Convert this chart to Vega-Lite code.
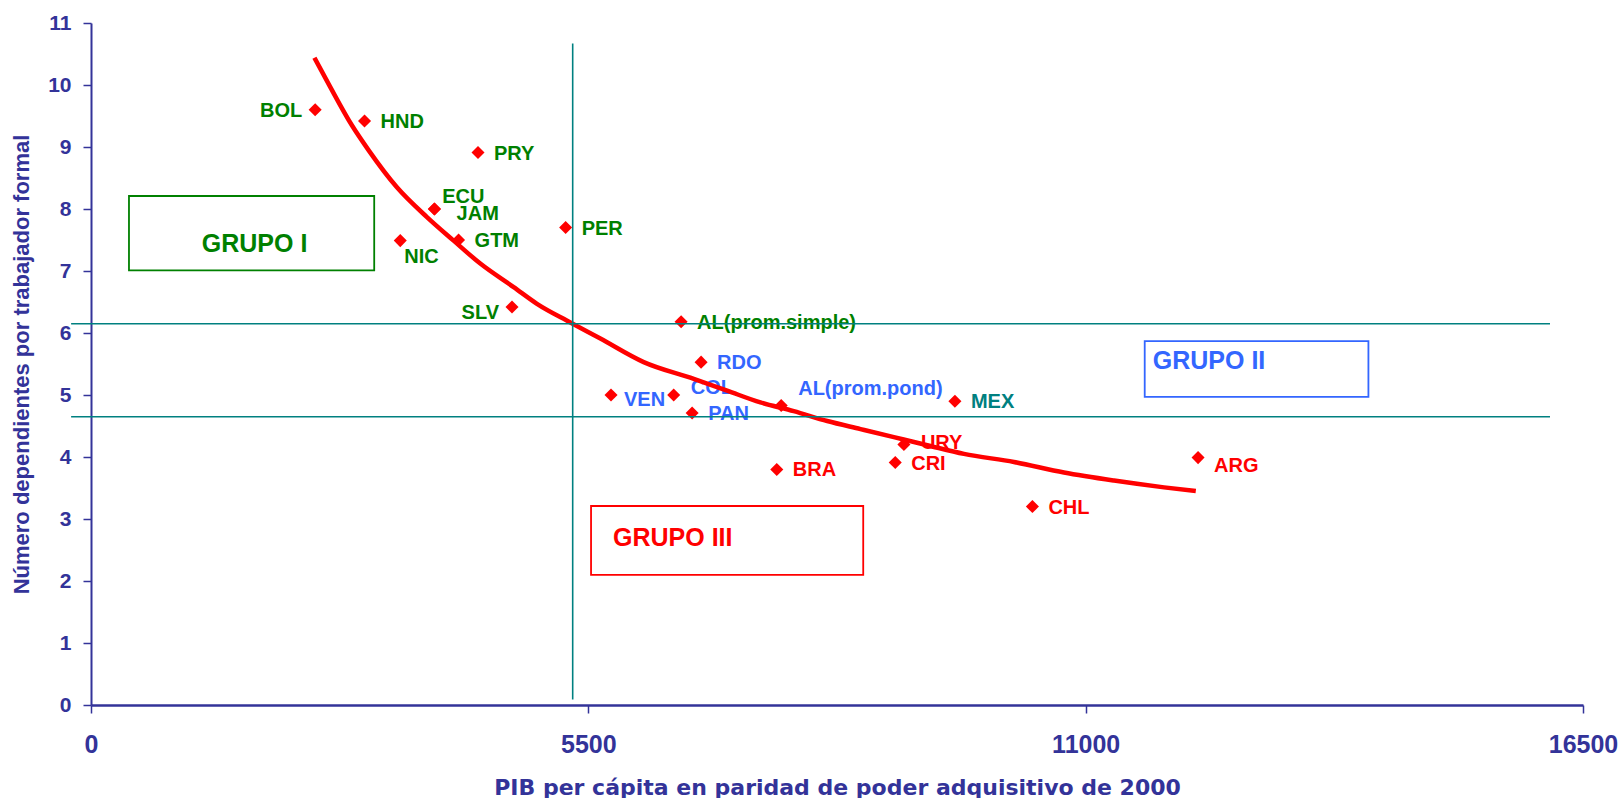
{
  "$schema": "https://vega.github.io/schema/vega-lite/v6.json",
  "width": 1492,
  "height": 682,
  "autosize": "none",
  "padding": {"left": 91, "top": 23, "right": 39, "bottom": 93},
  "background": "white",
  "config": {
    "view": {"stroke": null},
    "axis": {"grid": false},
    "text": {"font": "Liberation Sans", "fontWeight": "bold"}
  },
  "datasets": {
    "paises": [
      {"pais": "BOL", "pib": 2479, "dep": 9.60, "grupo": "I"},
      {"pais": "HND", "pib": 3025, "dep": 9.42, "grupo": "I"},
      {"pais": "PRY", "pib": 4280, "dep": 8.91, "grupo": "I"},
      {"pais": "ECU", "pib": 3796, "dep": 8.00, "grupo": "I"},
      {"pais": "JAM", "pib": 3800, "dep": 8.00, "grupo": "I"},
      {"pais": "NIC", "pib": 3420, "dep": 7.49, "grupo": "I"},
      {"pais": "GTM", "pib": 4065, "dep": 7.50, "grupo": "I"},
      {"pais": "PER", "pib": 5249, "dep": 7.70, "grupo": "I"},
      {"pais": "SLV", "pib": 4656, "dep": 6.42, "grupo": "I"},
      {"pais": "AL(prom.simple)", "pib": 6526, "dep": 6.18, "grupo": "I"},
      {"pais": "RDO", "pib": 6747, "dep": 5.53, "grupo": "II"},
      {"pais": "VEN", "pib": 5751, "dep": 5.00, "grupo": "II"},
      {"pais": "COL", "pib": 6444, "dep": 5.00, "grupo": "II"},
      {"pais": "PAN", "pib": 6648, "dep": 4.71, "grupo": "II"},
      {"pais": "AL(prom.pond)", "pib": 7633, "dep": 4.83, "grupo": "II"},
      {"pais": "MEX", "pib": 9554, "dep": 4.90, "grupo": "II"},
      {"pais": "URY", "pib": 8990, "dep": 4.20, "grupo": "III"},
      {"pais": "CRI", "pib": 8894, "dep": 3.91, "grupo": "III"},
      {"pais": "BRA", "pib": 7584, "dep": 3.80, "grupo": "III"},
      {"pais": "CHL", "pib": 10411, "dep": 3.20, "grupo": "III"},
      {"pais": "ARG", "pib": 12243, "dep": 3.99, "grupo": "III"}
    ],
    "curva": [
      {"pib": 2471, "dep": 10.44},
      {"pib": 2645, "dep": 9.97},
      {"pib": 2885, "dep": 9.35},
      {"pib": 3069, "dep": 8.95},
      {"pib": 3383, "dep": 8.35},
      {"pib": 3715, "dep": 7.87},
      {"pib": 4010, "dep": 7.49},
      {"pib": 4305, "dep": 7.12},
      {"pib": 4674, "dep": 6.74},
      {"pib": 4932, "dep": 6.47},
      {"pib": 5301, "dep": 6.17},
      {"pib": 5633, "dep": 5.91},
      {"pib": 6112, "dep": 5.53},
      {"pib": 6666, "dep": 5.26},
      {"pib": 7035, "dep": 5.07},
      {"pib": 7403, "dep": 4.88},
      {"pib": 7772, "dep": 4.74},
      {"pib": 8142, "dep": 4.58},
      {"pib": 8510, "dep": 4.45},
      {"pib": 8879, "dep": 4.32},
      {"pib": 9249, "dep": 4.19},
      {"pib": 9654, "dep": 4.05},
      {"pib": 10207, "dep": 3.92},
      {"pib": 10760, "dep": 3.75},
      {"pib": 11314, "dep": 3.62},
      {"pib": 11867, "dep": 3.51},
      {"pib": 12218, "dep": 3.45}
    ],
    "grupos": [
      {"grupo": "I", "nombre": "GRUPO I", "pib": 420, "pib2": 3132, "dep": 7.01, "dep2": 8.21, "tx": 1225, "ty": 7.30},
      {"grupo": "II", "nombre": "GRUPO II", "pib": 11653, "pib2": 14127, "dep": 4.97, "dep2": 5.87, "tx": 11742, "ty": 5.42},
      {"grupo": "III", "nombre": "GRUPO III", "pib": 5530, "pib2": 8540, "dep": 2.10, "dep2": 3.21, "tx": 5773, "ty": 2.57}
    ]
  },
  "layer": [
    {
      "data": {"name": "paises"},
      "mark": {"type": "point", "shape": "diamond", "filled": true, "size": 170, "color": "#FF0000", "opacity": 1},
      "encoding": {
        "x": {
          "field": "pib", "type": "quantitative",
          "scale": {"domain": [0, 16500], "nice": false, "zero": false},
          "axis": {
            "values": [0, 5500, 11000, 16500],
            "format": "d",
            "title": "PIB per cápita en paridad de poder adquisitivo de 2000",
            "domainColor": "#333399", "domainWidth": 2.5,
            "tickColor": "#333399", "tickSize": 8, "tickWidth": 1.5,
            "labelFont": "Liberation Sans", "labelFontSize": 25, "labelFontWeight": "bold", "labelColor": "#333399",
            "labelPadding": 19, "labelFlush": false,
            "titleFont": "DejaVu Sans", "titleFontSize": 22, "titleFontWeight": "bold", "titleColor": "#333399",
            "titlePadding": 20
          }
        },
        "y": {
          "field": "dep", "type": "quantitative",
          "scale": {"domain": [0, 11], "nice": false, "zero": false},
          "axis": {
            "values": [0, 0.5, 1, 1.5, 2, 2.5, 3, 3.5, 4, 4.5, 5, 5.5, 6, 6.5, 7, 7.5, 8, 8.5, 9, 9.5, 10, 10.5, 11],
            "format": "d",
            "labelExpr": "datum.value % 1 === 0 ? datum.label : ''",
            "title": "Número dependientes por trabajador formal",
            "domainColor": "#333399", "domainWidth": 2,
            "tickColor": "#333399",
            "tickSize": {"condition": {"test": "datum.value % 1 !== 0", "value": -5}, "value": 8},
            "tickWidth": 1.5,
            "labelFont": "Liberation Sans", "labelFontSize": 21, "labelFontWeight": "bold", "labelColor": "#333399",
            "labelPadding": 12,
            "titleFont": "Liberation Sans", "titleFontSize": 22, "titleFontWeight": "bold", "titleColor": "#333399",
            "titlePadding": 14
          }
        }
      }
    },
    {
      "data": {"name": "grupos"},
      "mark": {"type": "rect", "fill": "transparent", "strokeWidth": 1.8},
      "encoding": {
        "x": {"field": "pib", "type": "quantitative"},
        "x2": {"field": "pib2"},
        "y": {"field": "dep", "type": "quantitative"},
        "y2": {"field": "dep2"},
        "stroke": {"field": "grupo", "type": "nominal", "scale": {"domain": ["I", "II", "III"], "range": ["#008000", "#3366FF", "#FF0000"]}, "legend": null}
      }
    },
    {
      "data": {"name": "grupos"},
      "mark": {"type": "text", "fontSize": 25, "align": "left", "baseline": "alphabetic"},
      "encoding": {
        "x": {"field": "tx", "type": "quantitative"},
        "y": {"field": "ty", "type": "quantitative"},
        "text": {"field": "nombre"},
        "color": {"field": "grupo", "type": "nominal", "scale": {"domain": ["I", "II", "III"], "range": ["#008000", "#3366FF", "#FF0000"]}, "legend": null}
      }
    },
    {
      "data": {"name": "paises"},
      "transform": [{"filter": {"field": "pais", "oneOf": ["HND", "PRY", "GTM", "PER", "AL(prom.simple)", "RDO", "PAN", "MEX", "CRI", "CHL", "BRA"]}}],
      "mark": {"type": "text", "fontSize": 20, "align": "left", "baseline": "alphabetic", "dx": 16, "dy": 7},
      "encoding": {
        "x": {"field": "pib", "type": "quantitative"},
        "y": {"field": "dep", "type": "quantitative"},
        "text": {"field": "pais"},
        "color": {"condition": {"test": "datum.pais === 'MEX'", "value": "#008080"}, "field": "grupo", "type": "nominal", "scale": {"domain": ["I", "II", "III"], "range": ["#008000", "#3366FF", "#FF0000"]}, "legend": null}
      }
    },
    {
      "data": {"name": "paises"},
      "transform": [{"filter": {"field": "pais", "equal": "URY"}}],
      "mark": {"type": "text", "fontSize": 20, "align": "left", "baseline": "alphabetic", "dx": 17, "dy": 4},
      "encoding": {
        "x": {"field": "pib", "type": "quantitative"},
        "y": {"field": "dep", "type": "quantitative"},
        "text": {"field": "pais"},
        "color": {"field": "grupo", "type": "nominal", "legend": null}
      }
    },
    {
      "data": {"name": "paises"},
      "transform": [{"filter": {"field": "pais", "equal": "ARG"}}],
      "mark": {"type": "text", "fontSize": 20, "align": "left", "baseline": "alphabetic", "dx": 16, "dy": 14},
      "encoding": {
        "x": {"field": "pib", "type": "quantitative"},
        "y": {"field": "dep", "type": "quantitative"},
        "text": {"field": "pais"},
        "color": {"field": "grupo", "type": "nominal", "legend": null}
      }
    },
    {
      "data": {"name": "paises"},
      "transform": [{"filter": {"field": "pais", "equal": "VEN"}}],
      "mark": {"type": "text", "fontSize": 20, "align": "left", "baseline": "alphabetic", "dx": 13, "dy": 11},
      "encoding": {
        "x": {"field": "pib", "type": "quantitative"},
        "y": {"field": "dep", "type": "quantitative"},
        "text": {"field": "pais"},
        "color": {"field": "grupo", "type": "nominal", "legend": null}
      }
    },
    {
      "data": {"name": "paises"},
      "transform": [{"filter": {"field": "pais", "equal": "COL"}}],
      "mark": {"type": "text", "fontSize": 20, "align": "left", "baseline": "alphabetic", "dx": 17, "dy": -1},
      "encoding": {
        "x": {"field": "pib", "type": "quantitative"},
        "y": {"field": "dep", "type": "quantitative"},
        "text": {"field": "pais"},
        "color": {"field": "grupo", "type": "nominal", "legend": null}
      }
    },
    {
      "data": {"name": "paises"},
      "transform": [{"filter": {"field": "pais", "equal": "AL(prom.pond)"}}],
      "mark": {"type": "text", "fontSize": 20, "align": "left", "baseline": "alphabetic", "dx": 17, "dy": -11},
      "encoding": {
        "x": {"field": "pib", "type": "quantitative"},
        "y": {"field": "dep", "type": "quantitative"},
        "text": {"field": "pais"},
        "color": {"field": "grupo", "type": "nominal", "legend": null}
      }
    },
    {
      "data": {"name": "paises"},
      "transform": [{"filter": {"field": "pais", "equal": "ECU"}}],
      "mark": {"type": "text", "fontSize": 20, "align": "left", "baseline": "alphabetic", "dx": 8, "dy": -6},
      "encoding": {
        "x": {"field": "pib", "type": "quantitative"},
        "y": {"field": "dep", "type": "quantitative"},
        "text": {"field": "pais"},
        "color": {"field": "grupo", "type": "nominal", "legend": null}
      }
    },
    {
      "data": {"name": "paises"},
      "transform": [{"filter": {"field": "pais", "equal": "JAM"}}],
      "mark": {"type": "text", "fontSize": 20, "align": "left", "baseline": "alphabetic", "dx": 22, "dy": 11},
      "encoding": {
        "x": {"field": "pib", "type": "quantitative"},
        "y": {"field": "dep", "type": "quantitative"},
        "text": {"field": "pais"},
        "color": {"field": "grupo", "type": "nominal", "legend": null}
      }
    },
    {
      "data": {"name": "paises"},
      "transform": [{"filter": {"field": "pais", "equal": "NIC"}}],
      "mark": {"type": "text", "fontSize": 20, "align": "left", "baseline": "alphabetic", "dx": 4, "dy": 22},
      "encoding": {
        "x": {"field": "pib", "type": "quantitative"},
        "y": {"field": "dep", "type": "quantitative"},
        "text": {"field": "pais"},
        "color": {"field": "grupo", "type": "nominal", "legend": null}
      }
    },
    {
      "data": {"name": "paises"},
      "transform": [{"filter": {"field": "pais", "equal": "BOL"}}],
      "mark": {"type": "text", "fontSize": 20, "align": "right", "baseline": "alphabetic", "dx": -13, "dy": 7},
      "encoding": {
        "x": {"field": "pib", "type": "quantitative"},
        "y": {"field": "dep", "type": "quantitative"},
        "text": {"field": "pais"},
        "color": {"field": "grupo", "type": "nominal", "legend": null}
      }
    },
    {
      "data": {"name": "paises"},
      "transform": [{"filter": {"field": "pais", "equal": "SLV"}}],
      "mark": {"type": "text", "fontSize": 20, "align": "right", "baseline": "alphabetic", "dx": -13, "dy": 12},
      "encoding": {
        "x": {"field": "pib", "type": "quantitative"},
        "y": {"field": "dep", "type": "quantitative"},
        "text": {"field": "pais"},
        "color": {"field": "grupo", "type": "nominal", "legend": null}
      }
    },
    {
      "data": {"name": "curva"},
      "mark": {"type": "line", "color": "#FF0000", "strokeWidth": 4.5, "interpolate": "monotone"},
      "encoding": {
        "x": {"field": "pib", "type": "quantitative"},
        "y": {"field": "dep", "type": "quantitative"}
      }
    },
    {
      "data": {"values": [{}]},
      "mark": {"type": "rule", "color": "#008080", "strokeWidth": 1.6},
      "encoding": {
        "x": {"datum": -220, "type": "quantitative"},
        "x2": {"datum": 16135},
        "y": {"datum": 6.15, "type": "quantitative"}
      }
    },
    {
      "data": {"values": [{}]},
      "mark": {"type": "rule", "color": "#008080", "strokeWidth": 1.6},
      "encoding": {
        "x": {"datum": -220, "type": "quantitative"},
        "x2": {"datum": 16135},
        "y": {"datum": 4.65, "type": "quantitative"}
      }
    },
    {
      "data": {"values": [{}]},
      "mark": {"type": "rule", "color": "#008080", "strokeWidth": 1.6},
      "encoding": {
        "x": {"datum": 5327, "type": "quantitative"},
        "y": {"datum": 0.09, "type": "quantitative"},
        "y2": {"datum": 10.67}
      }
    }
  ]
}
